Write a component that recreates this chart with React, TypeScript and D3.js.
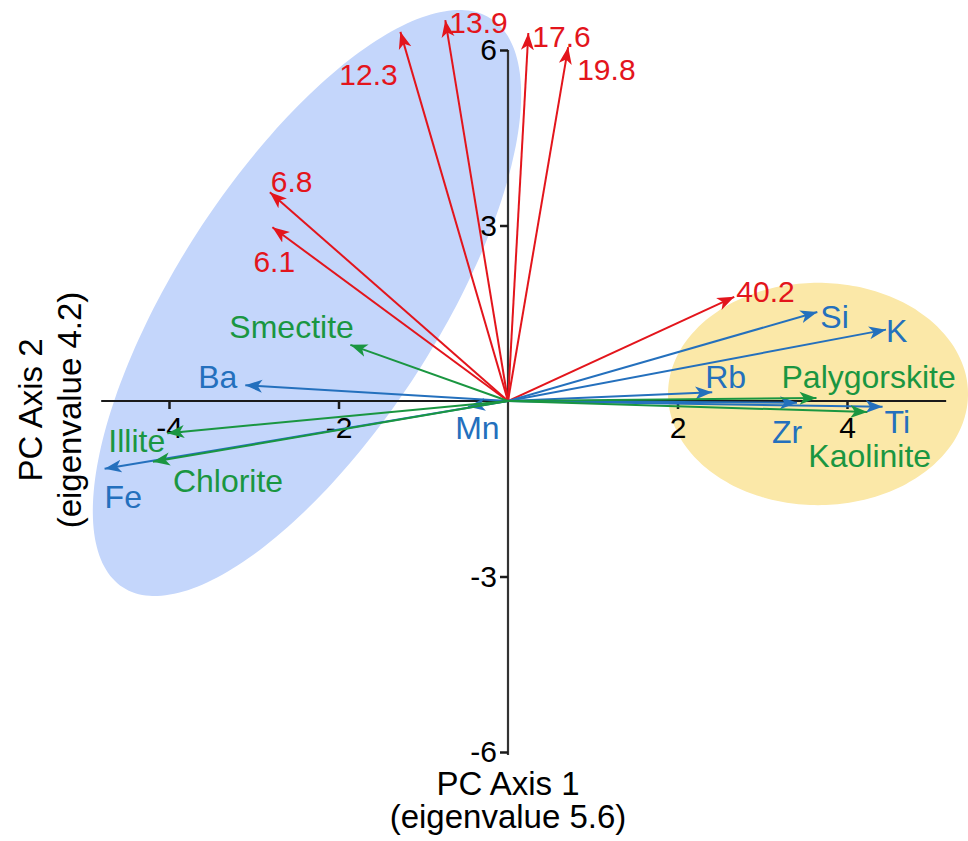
import React, { useRef, useEffect } from "react";
import * as d3 from "d3";

// loadings (PC1, PC2)
const redNames = ["12.3", "13.9", "17.6", "19.8", "6.8", "6.1", "40.2"];
const redPC1 = [-1.27, -0.74, 0.24, 0.71, -2.81, -2.78, 2.67];
const redPC2 = [6.31, 6.51, 6.29, 6.05, 3.57, 2.97, 1.78];

const blueNames = ["Ba", "Fe", "Mn", "Si", "K", "Rb", "Zr", "Ti"];
const bluePC1 = [-3.1, -4.76, -0.47, 3.65, 4.46, 2.41, 3.41, 4.42];
const bluePC2 = [0.27, -1.16, -0.1, 1.52, 1.22, 0.15, -0.03, -0.1];

const greenNames = ["Smectite", "Illite", "Chlorite", "Palygorskite", "Kaolinite"];
const greenPC1 = [-1.86, -4.02, -4.19, 3.64, 4.24];
const greenPC2 = [0.96, -0.55, -1.04, 0.05, -0.19];

const xTicks = [-4, -2, 2, 4];
const yTicks = [-6, -3, 3, 6];

// group ellipses: centre and two conjugate semi-axes, all in PC units
const blueGroup = { cx: -2.372, cy: 1.675, ax: 2.173, ay: 4.86, bx: 1.29, by: -1.212 };
const yellowGroup = { cx: 3.658, cy: 0.12, ax: 1.77, ay: 0, bx: 0, by: 1.9 };

// label nudges from the arrow tip, px
const labelNudge: Record<string, [number, number]> = {
  "12.3": [-61, 53], "13.9": [4, 13], "17.6": [4, 14], "19.8": [9, 33],
  "6.8": [1, 0], "6.1": [-19, 45], "40.2": [2, 5],
  Ba: [-47, 3], Fe: [0, 39], Mn: [-13, 32], Si: [3, 16], K: [0, 12],
  Rb: [-7, -4], Zr: [-25, 40], Ti: [2, 26],
  Smectite: [-121, -7], Illite: [-59, 19], Chlorite: [20, 30],
  Palygorskite: [-35, -10], Kaolinite: [-59, 55],
};

const RED = "#e3151c";
const BLUE = "#2470bd";
const GREEN = "#1a9641";
const FONT = "'Liberation Sans', Arial, sans-serif";

const W = 968;
const H = 841;

export default function App() {
  const svgRef = useRef<SVGSVGElement>(null);

  useEffect(() => {
    const svg = d3.select(svgRef.current);
    svg.selectAll("*").remove();

    const x = d3.scaleLinear().domain([-4, 4]).range([169, 847]);
    const y = d3.scaleLinear().domain([-6, 6]).range([752, 50]);

    const defs = svg.append("defs");
    [["red", RED], ["blue", BLUE], ["green", GREEN]].forEach(([id, c]) => {
      defs.append("marker")
        .attr("id", `head-${id}`)
        .attr("viewBox", "0 -7 17 14")
        .attr("refX", 17).attr("refY", 0)
        .attr("markerWidth", 17).attr("markerHeight", 14)
        .attr("markerUnits", "userSpaceOnUse")
        .attr("orient", "auto")
        .append("path")
        .attr("d", "M0,-6.5L17,0L0,6.5L4.5,0Z")
        .attr("fill", c);
    });

    // ellipses
    const ellipsePath = (g: typeof blueGroup) => {
      const pts = d3.range(0, 361, 3).map(deg => {
        const t = (deg * Math.PI) / 180;
        return [
          x(g.cx + g.ax * Math.cos(t) + g.bx * Math.sin(t)),
          y(g.cy + g.ay * Math.cos(t) + g.by * Math.sin(t)),
        ] as [number, number];
      });
      return d3.line().curve(d3.curveCardinalClosed)(pts);
    };
    svg.append("path").attr("d", ellipsePath(blueGroup)).attr("fill", "#c4d6fb");
    svg.append("path").attr("d", ellipsePath(yellowGroup)).attr("fill", "#fbe8a8");

    // axes through the origin
    const axisColor = "#1a1a1a";
    svg.append("line")
      .attr("x1", x(-4.8)).attr("x2", x(5.17))
      .attr("y1", y(0)).attr("y2", y(0))
      .attr("stroke", axisColor).attr("stroke-width", 2);
    svg.append("line")
      .attr("x1", x(0)).attr("x2", x(0))
      .attr("y1", y(6)).attr("y2", y(-6) + 3)
      .attr("stroke", "#333").attr("stroke-width", 2.2);

    const gx = svg.append("g").attr("transform", `translate(0,${y(0)})`)
      .call(d3.axisBottom(x).tickValues(xTicks).tickSize(8).tickPadding(8).tickFormat(d => String(d)));
    gx.select(".domain").remove();
    gx.selectAll("line").attr("stroke", axisColor).attr("stroke-width", 2.5);
    gx.selectAll("text").attr("fill", "#000").style("font-family", FONT).style("font-size", "30px");

    const gy = svg.append("g").attr("transform", `translate(${x(0)},0)`)
      .call(d3.axisLeft(y).tickValues(yTicks).tickSize(8).tickPadding(3).tickFormat(d => String(d)));
    gy.select(".domain").remove();
    gy.selectAll("line").attr("stroke", axisColor).attr("stroke-width", 2.5);
    gy.selectAll("text").attr("fill", "#000").style("font-family", FONT).style("font-size", "30px");

    // arrows
    const groups = [
      { id: "red", color: RED, names: redNames, a: redPC1, b: redPC2, size: 30 },
      { id: "blue", color: BLUE, names: blueNames, a: bluePC1, b: bluePC2, size: 32 },
      { id: "green", color: GREEN, names: greenNames, a: greenPC1, b: greenPC2, size: 32 },
    ];
    const arrowLayer = svg.append("g");
    const labelLayer = svg.append("g");
    groups.forEach(grp => {
      grp.names.forEach((name, i) => {
        const tx = x(grp.a[i]);
        const ty = y(grp.b[i]);
        arrowLayer.append("line")
          .attr("x1", x(0)).attr("y1", y(0))
          .attr("x2", tx).attr("y2", ty)
          .attr("stroke", grp.color).attr("stroke-width", 2)
          .attr("marker-end", `url(#head-${grp.id})`);
        const [dx, dy] = labelNudge[name];
        labelLayer.append("text")
          .attr("x", tx + dx).attr("y", ty + dy)
          .attr("fill", grp.color)
          .style("font-family", FONT).style("font-size", `${grp.size}px`)
          .text(name);
      });
    });

    // axis titles
    const title = svg.append("g").style("font-family", FONT).style("font-size", "33px").attr("fill", "#000");
    title.append("text").attr("x", x(0)).attr("y", 795).attr("text-anchor", "middle").text("PC Axis 1");
    title.append("text").attr("x", x(0)).attr("y", 828).attr("text-anchor", "middle").text("(eigenvalue 5.6)");
    title.append("text").attr("transform", `translate(42,${y(0) + 9}) rotate(-90)`).attr("text-anchor", "middle").text("PC Axis 2");
    title.append("text").attr("transform", `translate(81,${y(0) + 9}) rotate(-90)`).attr("text-anchor", "middle").text("(eigenvalue 4.2)");
  }, []);

  return (
    <svg
      ref={svgRef}
      width={W}
      height={H}
      style={{ position: "absolute", left: 0, top: 0, background: "#fff" }}
    />
  );
}
